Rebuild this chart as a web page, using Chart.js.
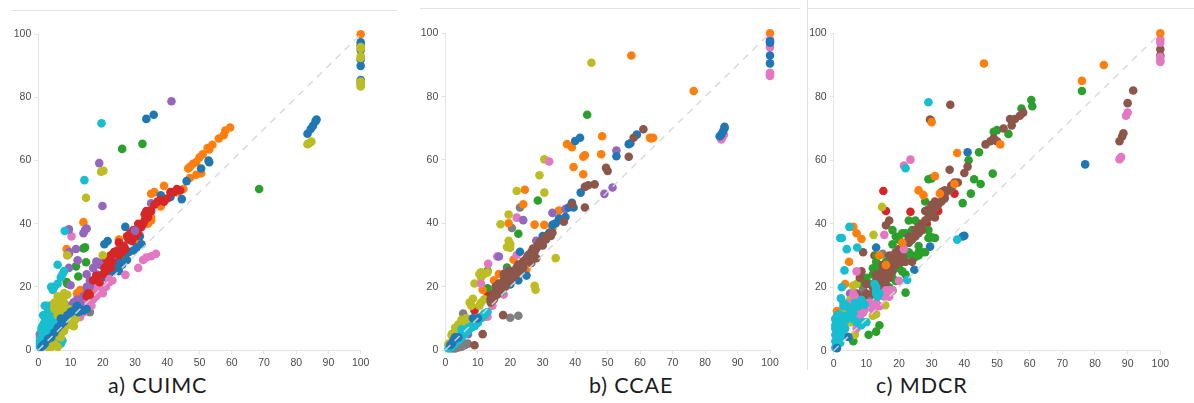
<!DOCTYPE html>
<html>
<head>
<meta charset="utf-8">
<script src="https://cdn.jsdelivr.net/npm/chart.js@4"></script>
<style>
    html, body { margin: 0; padding: 0; background: #fff; width: 1194px; height: 403px; overflow: hidden; }
    canvas { position: absolute; filter: blur(0.5px); }
    .caption { position: absolute; top: 372px; font: 21.5px Lato, sans-serif; letter-spacing: 0.9px; color: #1c1c1c; white-space: nowrap; }
    .rule { position: absolute; background: #e2e2e2; }
</style>
</head>
<body>
<div class="rule" style="left:12px;top:10px;width:385px;height:1px"></div>
<div class="rule" style="left:420px;top:8px;width:380px;height:1px"></div>
<div class="rule" style="left:808px;top:8px;width:386px;height:1px"></div>
<div class="rule" style="left:807px;top:0;width:1px;height:370px"></div>
<canvas id="panelA" style="left:0;top:14px"></canvas>
<canvas id="panelB" style="left:404px;top:14px"></canvas>
<canvas id="panelC" style="left:808px;top:14px"></canvas>
<div class="caption" style="left:108px">a) CUIMC</div>
<div class="caption" style="left:589px">b) CCAE</div>
<div class="caption" style="left:876px">c) MDCR</div>
<script>
// tick labels
const xTicks = [0, 10, 20, 30, 40, 50, 60, 70, 80, 90, 100];
const yTicks = [0, 20, 40, 60, 80, 100];
const diagonal = [[0, 0], [100, 100]];

// a) CUIMC, [x, y]
const aBlue = [[100,97.5],[100,96.5],[100,95],[100,92],[100,90],[100,85.5],[100,84.5],[83.5,68.5],[84.5,70],[85.2,71],[86,72.5],[86.3,73],[33.5,73.2],[35.8,74.5],[53,59.5],[52.8,60],[50.5,57.5],[46,53.5],[44.5,47.8],[41,48.5],[38,49],[27,39],[31.5,36],[20.5,33.5],[21.5,34.5],[32,33.5],[30.5,32.5],[29.5,31.5],[28,31],[27.5,28.5],[25,28],[24,26],[25,25],[22,24],[21,23],[23,25],[26,27]];
const aBlueLow = [[12,14],[13,13],[11,12.5],[10,12],[14,12.5],[12.5,12],[15,13],[8,9],[7,8],[6,7],[4,4],[3,3.5],[2,2],[1,1],[1.5,1.5],[5,5.5],[9,11],[7,10]];
const aOrange = [[100,100],[59.5,70.5],[58,69.5],[57.5,68],[56,67],[54,65],[52.5,64],[53,63.5],[51,62],[50,61],[49,59.5],[48,59],[47,58],[46.5,57.5],[50.5,56],[49,55.5],[47,54.5],[45,51],[39,52],[36,50],[35,49.5],[42,50],[38,45.5],[35,42],[33,41],[32,39.5],[25,35],[27,28.5],[14,40.5],[8.8,32],[13,19],[12,18],[17,19],[35,41],[43,50],[34,40],[30,35]];
const aGreen = [[68.5,51],[32.3,65.3],[26,63.7],[14.5,32.5],[14,32.2],[14.8,27.8],[11.7,26.5],[12.4,23.3],[8.8,21.5],[9,21],[26.5,30]];
const aRed = [[15,17],[15.5,18],[16,17.5],[17,22],[18,23.5],[19,21.5],[20,24],[20.5,26],[21,25],[21.5,27.5],[22,28],[22.5,26],[23,28],[22,29],[21,29],[22.5,30],[23.5,31],[24.5,31.5],[25,30],[26,31],[26.5,33],[25,34],[27,32],[28,35],[27.5,36],[28.5,37],[29,34.5],[30,36],[29.5,38],[30.5,38],[31,37],[32,39],[31,40],[32.5,40],[33,41],[33,43],[34,42],[34.5,44],[33.5,44],[35,44],[36,46],[37,47],[38,47.5],[39,47],[40,48],[41,50],[42,50],[43,51],[44,50.5]];
const aPurple = [[41.3,78.8],[18.9,59.2],[19.9,45.6],[9.5,38.2],[14.5,38],[15,38.5],[14,37],[9.5,30.5],[9.6,31],[11.7,32],[12.2,28.4],[9.5,26],[35,46.5],[23,30],[20,28],[19,27],[17,26],[15,24],[16,22],[15,20],[12,16],[14,17],[10,20.5],[18,28],[21,29],[5,11],[7,13],[9,12],[0.5,5],[1,5.5],[3,13],[4,13],[5,10],[7,12],[11,15],[13,15],[10,14],[15,18],[16,20],[18,24],[21,26]];
const aPurpleTop = [[30,37.8]];
const aBrown = [[13,17],[15,18],[14,16],[11,15],[8,12],[10,13],[6,11],[18,21],[6,10],[9,14],[12,14],[13,15]];
const aPink = [[36.5,30.5],[35,29.7],[33.5,29.3],[32.5,28.5],[31,26],[27,23.8],[23,22],[22,21.5],[20,18],[19,18.5],[16.5,14],[15,14],[13,10.5],[10,9.5],[10.3,36],[9,30],[8,12],[20,20],[18,20],[0.5,4],[1,3],[17,16],[14,15],[12,13],[6,10],[4,8],[22,22.5],[7,11],[9,13],[6,8],[11,11],[3,6],[2,3],[14,12],[16,16],[18,17],[19,19],[21,20]];
const aGray = [[16,12],[14,13],[12,12],[10,10],[7,9]];
const aOlive = [[100,96],[100,95.5],[100,93],[100,92.5],[100,85],[100,84],[100,83.5],[83.5,65.2],[84,65.5],[84.7,66],[19.5,56.5],[20.2,56.8],[14.8,48.2],[9,30],[20,30],[11.8,10],[11,7.5],[8,7],[7,5],[6,4.5],[5,15],[6,17],[7,14],[8,15],[9,17.5],[5,13],[6,12],[4,1],[6,1],[9.5,13],[8,18],[5,14],[5.5,13],[6.5,15],[7.5,16],[8,13.5],[7,12],[6,11],[9,8],[8,6],[7,4],[9,10],[11,9],[10,8],[5,2],[3,1]];
const aCyan = [[19.6,71.8],[14.3,53.8],[8.2,37.7],[6,27],[7.5,24],[8,25],[7,23],[6,21],[5,20],[4,20],[4.5,19],[2.5,14],[4,14],[2,11],[2.5,10],[3,9],[1.5,8],[1,6],[0.5,3],[0.5,2],[1,1.5],[2,6],[3,7],[3.5,5.5],[5,8],[6,3],[6.5,2.5],[5,4],[4,3],[8,10],[9.5,9.5],[7,16],[2,8],[3,12],[1,4],[4,6],[6,5],[2.5,4],[1.5,2.5],[0.5,1],[1.5,3.5],[2,5],[1,7],[2,9],[3,10.5],[1.5,11],[2,14],[3.5,14],[4,11],[5,9.5],[3,5],[4.5,6.5],[6,8],[7.5,3],[7,2],[5.5,2.5],[2.5,7.5],[8,6.5],[7.5,9]];

// b) CCAE
const bOrange = [[100,100],[57.3,93],[76.5,81.8],[48.3,67.5],[37.5,65],[39,64],[63,67],[64,67],[63.5,66.8],[42.5,61],[43,61.5],[48,61.8],[39.5,57.8],[42.5,55.5],[24.5,50.6],[24,46],[27.5,39.6],[30.5,39.5],[19.5,40],[33,38.5],[35,44],[25,25.5],[16.5,24],[11.5,19],[21,28.5],[15,22]];
const bOlive = [[45,90.7],[30.5,60.2],[29,55.2],[30.5,49.7],[22,50.2],[17,39.7],[19.5,42.8],[19.5,34.5],[20,33.5],[19,32.5],[20,32.3],[34,29],[27.5,20.3],[27.8,19],[10.5,24],[11,24.5],[12,24],[13,24.5],[11,23],[9,21],[8.5,16.2],[7.5,15],[8,14],[12,16],[11,15],[10.5,14],[5,9.5],[6,9],[6.5,10],[2.5,5],[2,4.5],[1,1.5],[4,6],[4,8],[5,9],[2,5],[1,2],[3,7],[7,8],[6,7]];
const bPink = [[100,98],[100,96],[100,95.5],[100,87.5],[100,87],[100,86.5],[85,66.5],[85.2,67],[85.5,67.5],[85.8,68],[32,59.5],[22,41.8],[13.2,27.2],[16,29.5],[22,30],[18,17.5],[14.5,14],[12,10.5],[10,9],[9,8],[11,21],[11,10.5],[13,10.5]];
const bBlue = [[100,97.5],[100,97],[100,93],[100,90.5],[86,70.5],[86,70],[85.5,69],[85,68],[84.5,67.5],[41.5,67],[40,66],[59,68],[56.5,65],[57,65.3],[52.7,61.2],[41.7,49.7],[39,46.5],[38,45],[39.5,45],[36,41],[35,41.5],[34,40],[33,39.5],[30,36],[29.5,34.5],[25,23.5],[22.5,22],[20,20.7],[23,31],[14,16],[18,21],[31,35],[32,37],[37,42]];
const bBlueLow = [[10,10],[8.5,10],[3,4],[2,2],[1.5,1.5],[2.5,3],[4,4]];
const bGreen = [[43.7,74.3],[28.5,47.2],[22.5,36.7],[13,25],[13,19.5],[19,26]];
const bBrown = [[61,69.7],[58,67],[56.5,61],[50,56.5],[49.5,57.5],[46,52.3],[44,52],[43,51.5],[43,45],[39,46],[36.5,40.5],[32.5,36],[33,37],[31,35],[28,29],[26.5,27.5],[17.8,11],[11.5,5],[9,1.5],[14,16],[15,17],[16,19],[17,20],[18,22],[19,21],[20,24],[21,23],[22,26],[23,25],[24,28],[25,29],[26,30],[27,32],[28,32],[29,33],[30,34],[31,36],[15,18],[20,22],[24,26],[14,15],[15,16],[16,17.5],[17,18.5],[17.5,21],[18.5,20],[19,23],[20,22.5],[21,25],[22,24],[22.5,27],[23,27],[24,27],[25,28],[25.5,30],[26.5,31],[27.5,31],[28.5,33],[29,34],[30,33],[30.5,35],[15.5,20],[16.5,21],[18,24],[19.5,25]];
const bPurple = [[52.7,63],[51.5,51.3],[49,49.3],[37,44.5],[33,43.3],[24,41],[19,25],[28,34.5],[16.5,29.5],[7,5]];
const bGray = [[23,45],[20.5,38.5],[22.5,10.8],[20,10.2],[5.5,11.5],[6,1.5],[5,1],[4,0.8],[3,0.5],[7,2],[6,2],[5,2],[2,0.5]];
const bCyan = [[1,0.5],[1.5,1],[2,1.5],[3,2.5],[4,4],[4.5,3.5],[5,5],[6,5.5],[6.5,6],[7,7],[8,7.5],[9,9],[10,9.5],[11,10.5],[12,11.5],[13,12],[17.5,18.5],[5,6.5],[3.5,3],[5,4],[6,5],[7,6],[8,7],[9,7.5],[10,8.5],[11,10],[12,11],[3,2],[2,1],[4,3]];
const bRed = [[9,12.5],[13,17],[14,17.5]];

// c) MDCR
const cOrange = [[100,100],[46,90.5],[82.7,90],[76,85],[30,72],[37.8,62.3],[51,65],[31,55],[26,50.5],[27.5,49],[32.5,49.5],[37,52.5],[6,39],[7,37],[8.5,35.2],[4.7,28],[3.5,21],[1,12.5],[0.5,10],[16,27],[14,30],[21,34]];
const cGreen = [[76,81.8],[60.5,79],[60.8,77],[57.5,76.3],[53.5,68.3],[49,69],[50,69.5],[44.5,62.5],[41.3,60],[48.7,55.8],[43,54],[45,52.5],[42,49.5],[39.5,46.5],[29,54],[30,54.3],[28,47],[29,35.5],[30,35.7],[31,35.5],[28,31],[27,31],[26,31],[25,29.5],[26,30],[23,34],[23,35],[21,37],[18,38],[19,36],[18,33.5],[24,38],[26,40],[23,41],[22,18.3],[22,24],[20,26],[21,25],[13,30],[12,24],[13,26],[14,27],[10,22],[9,20],[10,23],[14,8],[13,6],[10.7,5],[6,3],[17,20],[24,30],[16,24],[19,22],[8,22],[11,21],[12,26],[13,28],[15,22],[16,28],[18,23],[18,19],[20,35],[22,37],[24,36],[25,41],[26,33],[27,39],[29,38],[22,30],[23,31],[14,18]];
const cBrown = [[91.7,82],[90,78],[88.7,68.5],[88.3,67.5],[87.5,66],[100,95],[100,93],[35.7,77.5],[29.5,72.8],[29.8,72.5],[58,75],[57,74],[55.5,73],[54,73],[54.5,71],[52,70],[49,67],[48,66],[46.5,65],[50,66],[35.5,57],[41,58],[40,56],[37,53],[36,51],[34,50.5],[33,50],[31,45],[30,46],[28,44],[29,42],[31,42],[27,40],[25,38],[23,36],[22,34],[20,32],[19,31],[17,30],[18,28],[16,26],[15,25],[14,24],[15,22],[17,23],[16,20],[21,28],[24,28],[9,31],[16,39.5],[17,41],[8.5,25],[8,23],[10,18],[8,17],[12,20],[13,22],[18,25],[20,29],[12,18],[13,24],[14,20],[15,27],[16,24],[16,22],[17,26],[18,30],[19,27],[20,31],[21,30],[22,28],[23,34],[24,35],[25,36],[26,37],[26,39],[27,38],[28,41],[29,44.5],[30,44],[31,47],[32,46],[33,47],[34,48],[34.5,50],[36,52],[38,53],[7,12],[6,11],[9,17],[7,18],[10,21]];
const cRed = [[15.2,50.3],[16,44],[23.5,43.8],[37,49.5],[32,44],[28.5,40],[12.5,30],[14,22]];
const cBlue = [[41,62.5],[77,58.7],[40,36.2],[39.5,36],[29.5,32.8],[24.7,25.5],[13,32.5]];
const cBlueLow = [[4.5,4.3],[1,0.8]];
const cPurple = [[6,17],[9,15],[5,18]];
const cPink = [[100,98],[100,97],[100,92.5],[100,91.5],[100,91],[90,75],[89.5,74],[88,61],[87.5,60.3],[23.5,60.2],[21.5,58.3],[15.5,36.5],[21.5,32],[7,25],[20,22],[17,19],[15.5,17],[15,18],[11,15],[9.5,13],[6,18],[4,10],[12,13],[7,7],[3,6],[9,12],[8,11],[13,15],[14,14],[16,19],[17,17],[18,19],[7,13],[5,15],[6.5,17]];
const cGray = [[15,30.5],[12,18],[11,17],[13,20],[9,19]];
const cOlive = [[14.8,45.3],[12.2,36.5],[7,21],[6,20.5],[13,11.5],[15.8,14.3],[5,16],[3.2,12],[6,9],[3,9],[6.5,5],[5.5,16],[12,11],[5,9],[4,9]];
const cCyan = [[29,78.3],[22,57.5],[37.8,35],[4.8,39],[2,35.5],[2.5,35.5],[4,32],[7.2,32.5],[3.3,25.3],[2.5,20],[2.2,16.5],[3,14],[1,11],[1.5,10],[0.5,8],[1,6],[0.5,3],[1,2],[1.5,8],[2,6],[1,9],[2,4],[2.5,8],[2,10],[22.5,22.3],[13,20],[13,18],[13.5,17],[6.5,15],[8,15],[9.5,14.5],[6,12],[7,9],[8,8.5],[9,9],[4,10],[3.5,7],[0.5,1],[0.8,2],[1,3.5],[1.5,3],[2,2.5],[0.5,5],[1,5],[1.5,5],[2,5],[2.5,6],[3,7],[0.5,7],[1,7.5],[1.5,7],[2,8],[2.5,9.5],[3,10],[0.5,10],[1,10.5],[2,11],[1.5,11.5],[3,8.5],[2.5,11],[13,19],[14,18],[12.5,21],[7.5,14],[8.5,16],[5,13],[4,11],[6,10],[8.5,8],[10,9],[3,15],[4,14]];

const colores = { blue: '#1f77b4', orange: '#ff7f0e', green: '#2ca02c', red: '#d62728', purple: '#9467bd', brown: '#8c564b', pink: '#e377c2', gray: '#7f7f7f', olive: '#bcbd22', cyan: '#17becf' };

// series listed bottom to top
const seriesA = [['gray', aGray], ['brown', aBrown], ['orange', aOrange], ['green', aGreen], ['blue', aBlue], ['pink', aPink], ['purple', aPurple], ['red', aRed], ['purple', aPurpleTop], ['cyan', aCyan], ['olive', aOlive], ['blue', aBlueLow]];
const seriesB = [['red', bRed], ['gray', bGray], ['green', bGreen], ['orange', bOrange], ['olive', bOlive], ['pink', bPink], ['purple', bPurple], ['blue', bBlue], ['cyan', bCyan], ['brown', bBrown], ['blue', bBlueLow]];
const seriesC = [['purple', cPurple], ['red', cRed], ['blue', cBlue], ['green', cGreen], ['gray', cGray], ['olive', cOlive], ['brown', cBrown], ['pink', cPink], ['orange', cOrange], ['cyan', cCyan], ['blue', cBlueLow]];

const dibujarPanel = (id, series, x0, x100, y100, y0) => {
    const canvas = document.getElementById(id);
    const ancho = 396, alto = 356, left = canvas.offsetLeft, top = canvas.offsetTop;
    canvas.width = ancho;
    canvas.height = alto;

    const puntos = series.map(([nombre, datos], i) => ({
        type: 'scatter',
        data: datos.map(([x, y]) => ({ x, y })),
        backgroundColor: colores[nombre],
        pointRadius: 4.3,
        pointBorderWidth: 0,
        pointHoverRadius: 4.3,
        clip: false,
        order: series.length - i + 1
    }));
    // dashed reference line goes on top of the dots
    const linea = {
        type: 'line',
        data: diagonal.map(([x, y]) => ({ x, y })),
        borderColor: 'rgba(215, 215, 215, 0.9)',
        borderWidth: 1.5,
        borderDash: [7, 6],
        pointRadius: 0,
        clip: false,
        order: 0
    };

    const tickStyle = { font: { family: 'Liberation Sans', size: 10.5 }, color: '#4a4a4a', autoSkip: false, maxRotation: 0, padding: 3 };
    new Chart(canvas, {
        data: { datasets: [linea, ...puntos] },
        options: {
            responsive: false,
            animation: false,
            events: [],
            layout: {
                autoPadding: false,
                padding: { left: 0, top: y100 - top, right: left + ancho - x100, bottom: top + alto - y0 - 22 }
            },
            plugins: { legend: { display: false }, tooltip: { enabled: false } },
            scales: {
                x: {
                    type: 'linear', min: 0, max: 100,
                    afterBuildTicks: axis => { axis.ticks = xTicks.map(value => ({ value })); },
                    afterFit: axis => { axis.height = 22; },
                    grid: { drawOnChartArea: false, color: '#e4e4e4', tickLength: 4 },
                    border: { color: '#e4e4e4' },
                    ticks: tickStyle
                },
                y: {
                    type: 'linear', min: 0, max: 100,
                    afterBuildTicks: axis => { axis.ticks = yTicks.map(value => ({ value })); },
                    afterFit: axis => { axis.width = x0 - left; },
                    grid: { drawOnChartArea: false, color: '#e4e4e4', tickLength: 4 },
                    border: { color: '#e4e4e4' },
                    ticks: tickStyle
                }
            }
        }
    });
};

window.addEventListener('DOMContentLoaded', () => {
    dibujarPanel('panelA', seriesA, 38.3, 360.7, 34.3, 350);
    dibujarPanel('panelB', seriesB, 445.3, 770, 33.3, 350);
    dibujarPanel('panelC', seriesC, 833.7, 1160.3, 33.3, 350.7);
});
</script>
</body>
</html>
